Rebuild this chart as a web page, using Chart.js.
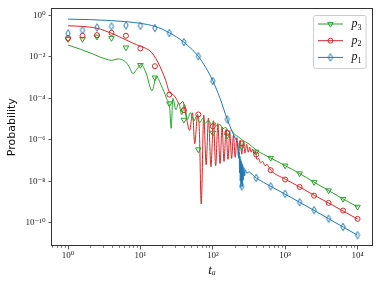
<!DOCTYPE html>
<html>
<head>
<meta charset="utf-8">
<script src="https://cdn.jsdelivr.net/npm/chart.js@4.4.1/dist/chart.umd.min.js"></script>
<style>
  html, body { margin: 0; padding: 0; background: #fff; }
  #wrap { width: 381px; height: 286px; }
</style>
</head>
<body>
<div id="wrap"><canvas id="chart" width="381" height="286"></canvas></div>
<script>
// everything below is read off the reference, stored as log10 exponents
// curves: [log10 t_a, log10 P]; markers share markerLogT
const markerLogT = [0, 0.2, 0.4, 0.6, 0.8, 1, 1.2, 1.4, 1.6, 1.8, 2, 2.2, 2.4, 2.6, 2.8, 3, 3.2, 3.4, 3.6, 3.8, 4];

const p1Markers = [-0.87, -0.71, -0.58, -0.53, -0.48, -0.50, -0.61, -0.85, -1.29, -1.97, -3.17, -5.02, -8.25, -7.84, -8.25, -8.61, -9.02, -9.40, -9.81, -10.21, -10.61];
const p2Markers = [-1.09, -0.98, -0.95, -0.84, -0.98, -1.59, -2.45, -3.82, -4.57, -4.78, -5.35, -5.67, -6.18, -6.72, -7.47, -7.92, -8.28, -8.70, -9.05, -9.42, -9.82];
const p3Markers = [-1.15, -1.14, -1.03, -1.10, -1.55, -2.40, -3.00, -4.25, -5.04, -6.47, -5.67, -5.80, -6.34, -6.58, -6.88, -7.25, -7.63, -8.05, -8.45, -8.86, -9.24];

const p1Curve = [
  [0, -0.18], [0.3, -0.20], [0.6, -0.25], [0.8, -0.30], [1, -0.38], [1.1, -0.44], [1.2, -0.53],
  [1.3, -0.66], [1.4, -0.84], [1.5, -1.04], [1.6, -1.29], [1.7, -1.60], [1.8, -1.97], [1.9, -2.50],
  [2, -3.15], [2.1, -4.0], [2.2, -5.02], [2.27, -5.62], [2.32, -6.0], [2.35, -6.3], [2.36, -6.9],
  [2.365, -6.6], [2.37, -7.6], [2.375, -6.8], [2.38, -8.0], [2.385, -6.95], [2.39, -8.3], [2.395, -7.05],
  [2.40, -8.1], [2.405, -7.15], [2.41, -8.25], [2.415, -7.25], [2.42, -7.95], [2.43, -7.35], [2.44, -7.75],
  [2.45, -7.45], [2.47, -7.62], [2.5, -7.55], [2.55, -7.7], [2.6, -7.84], [2.8, -8.25], [3, -8.63],
  [3.2, -9.02], [3.4, -9.41], [3.6, -9.81], [3.8, -10.21], [4, -10.61]
];

const p2Curve = [
  [0, -0.50], [0.2, -0.53], [0.4, -0.62], [0.6, -0.86], [0.8, -1.18], [0.95, -1.42], [1.05, -1.55],
  [1.12, -1.68], [1.18, -1.9], [1.24, -2.25], [1.3, -2.7], [1.35, -3.15], [1.4, -3.7], [1.46, -3.85],
  [1.5, -4.05], [1.54, -4.3], [1.585, -4.15], [1.63, -4.85], [1.68, -5.55], [1.72, -4.7], [1.75, -6.2],
  [1.79, -4.78], [1.815, -5.6], [1.84, -9.1], [1.875, -4.82], [1.908, -7.2], [1.94, -4.95], [1.975, -7.3],
  [2.008, -5.08], [2.04, -7.25], [2.07, -5.22], [2.10, -7.15], [2.128, -5.38], [2.155, -7.05], [2.183, -5.5],
  [2.21, -6.95], [2.235, -5.65], [2.26, -6.9], [2.285, -5.78], [2.31, -6.85], [2.333, -5.9], [2.355, -6.8],
  [2.378, -6.02], [2.40, -6.7], [2.423, -6.12], [2.445, -6.65], [2.468, -6.22], [2.49, -6.6], [2.51, -6.35],
  [2.53, -6.6], [2.55, -6.45], [2.57, -6.7], [2.59, -6.55], [2.61, -6.95], [2.63, -6.9], [2.66, -7.12],
  [2.69, -7.05], [2.72, -7.25], [2.75, -7.2], [2.8, -7.47], [3, -7.9], [3.2, -8.28], [3.4, -8.68],
  [3.6, -9.05], [3.8, -9.44], [4, -9.83]
];

const p3Curve = [
  [0, -1.43], [0.17, -1.63], [0.35, -1.87], [0.45, -2.02], [0.52, -2.1], [0.6, -2.17], [0.69, -2.1],
  [0.78, -2.2], [0.84, -2.45], [0.897, -2.8], [0.95, -2.6], [1.01, -2.37], [1.08, -2.8], [1.16, -3.64],
  [1.22, -2.95], [1.29, -3.4], [1.36, -4.0], [1.405, -4.5], [1.425, -5.45], [1.448, -4.0], [1.49, -4.55],
  [1.53, -4.22], [1.57, -4.8], [1.61, -4.3], [1.65, -5.02], [1.69, -4.7], [1.74, -5.1], [1.775, -4.86],
  [1.82, -5.18], [1.86, -4.98], [1.9, -5.2], [1.94, -5.05], [1.98, -5.26], [2.02, -5.14], [2.06, -5.36],
  [2.10, -5.26], [2.14, -5.47], [2.18, -5.4], [2.22, -5.6], [2.26, -5.56], [2.30, -5.74], [2.35, -5.85],
  [2.4, -6.0], [2.5, -6.2], [2.6, -6.5], [2.8, -6.88], [3, -7.25], [3.2, -7.63], [3.4, -8.05],
  [3.6, -8.45], [3.8, -8.86], [4, -9.24]
];

const seriesLabels = ['p3', 'p2', 'p1'];
const xTickExps = [0, 1, 2, 3, 4];
const yTickExps = [0, -2, -4, -6, -8, -10];
const xRangeExp = [-0.2, 4.2];
const yRangeExp = [-11.13, 0.34];

const colors = { p1: '#1f77b4', p2: '#d62728', p3: '#2ca02c' };
const serif = "'Liberation Serif', 'DejaVu Serif', serif";

const supMap = { '-': '\u207b', '0': '\u2070', '1': '\u00b9', '2': '\u00b2', '3': '\u00b3', '4': '\u2074',
  '5': '\u2075', '6': '\u2076', '7': '\u2077', '8': '\u2078', '9': '\u2079' };
const powLabel = e => '10' + String(e).split('').map(c => supMap[c]).join('');

const toPoints = pairs => pairs.map(([lt, lp]) => ({ x: 10 ** lt, y: 10 ** lp }));
const markerPoints = vals => vals.map((lp, i) => ({ x: 10 ** markerLogT[i], y: 10 ** lp }));

// thin diamond marker ('d' in matplotlib) as an image point style
function thinDiamond(color) {
  const c = document.createElement('canvas');
  c.width = 8; c.height = 10;
  const g = c.getContext('2d');
  g.strokeStyle = color;
  g.lineWidth = 1;
  g.beginPath();
  g.moveTo(4, 1.3); g.lineTo(6.2, 5); g.lineTo(4, 8.7); g.lineTo(1.8, 5);
  g.closePath();
  g.stroke();
  return c;
}
const diamondImg = thinDiamond(colors.p1);

function drawMarker(ctx, kind, x, y, color) {
  ctx.save();
  ctx.strokeStyle = color;
  ctx.lineWidth = 1;
  ctx.beginPath();
  if (kind === 'tri') {
    const r = 3.2;
    ctx.moveTo(x - r * 0.866, y - r * 0.5);
    ctx.lineTo(x + r * 0.866, y - r * 0.5);
    ctx.lineTo(x, y + r);
    ctx.closePath();
    ctx.stroke();
  } else if (kind === 'circ') {
    ctx.arc(x, y, 2.5, 0, Math.PI * 2);
    ctx.stroke();
  } else {
    ctx.drawImage(diamondImg, x - diamondImg.width / 2, y - diamondImg.height / 2);
  }
  ctx.restore();
}

const curve = (label, pairs, color, order) => ({
  label, data: toPoints(pairs), showLine: true, borderColor: color, borderWidth: 1,
  pointRadius: 0, cubicInterpolationMode: 'monotone', order
});
const marks = (label, vals, color, style, radius, rotation, order) => ({
  label, data: markerPoints(vals), showLine: false, pointStyle: style, pointRadius: radius,
  pointRotation: rotation, borderColor: color, backgroundColor: 'rgba(0,0,0,0)',
  pointBorderWidth: 1, order
});

const framePlugin = {
  id: 'frame',
  afterDatasetsDraw(chart) {
    const { ctx, chartArea: a, scales } = chart;
    ctx.save();
    ctx.strokeStyle = '#333';
    ctx.lineWidth = 1;
    ctx.strokeRect(Math.round(a.left) - 0.5, Math.round(a.top) + 0.5,
      Math.round(a.right - a.left) + 1, Math.round(a.bottom - a.top) - 1);
    // minor ticks on the time axis
    ctx.lineWidth = 0.6;
    const xs = scales.x;
    for (let e = -1; e <= 4; e++) {
      for (let m = 2; m <= 9; m++) {
        const v = m * 10 ** e;
        if (v <= xs.min || v >= xs.max) continue;
        const px = Math.round(xs.getPixelForValue(v)) + 0.5;
        ctx.beginPath();
        ctx.moveTo(px, a.bottom);
        ctx.lineTo(px, a.bottom + 2);
        ctx.stroke();
      }
    }
    ctx.restore();
  },
  afterDraw(chart) {
    const { ctx } = chart;
    const box = { x: 313.5, y: 15.5, w: 52.5, h: 53 };
    ctx.save();
    ctx.fillStyle = 'rgba(255,255,255,0.8)';
    ctx.strokeStyle = '#cccccc';
    ctx.lineWidth = 1;
    ctx.beginPath();
    ctx.roundRect(box.x, box.y, box.w, box.h, 2);
    ctx.fill();
    ctx.stroke();
    const kinds = ['tri', 'circ', 'dia'];
    const cols = [colors.p3, colors.p2, colors.p1];
    seriesLabels.forEach((lab, i) => {
      const y = 24 + i * 16.7;
      ctx.strokeStyle = cols[i];
      ctx.lineWidth = 1;
      ctx.beginPath();
      ctx.moveTo(318, y);
      ctx.lineTo(343, y);
      ctx.stroke();
      drawMarker(ctx, kinds[i], 330.5, y, cols[i]);
      ctx.fillStyle = '#111';
      ctx.textBaseline = 'alphabetic';
      ctx.font = `italic 12px ${serif}`;
      ctx.fillText(lab[0], 351.5, y + 3);
      ctx.font = `8px ${serif}`;
      ctx.fillText(lab[1], 357.5, y + 5.5);
    });
    ctx.restore();
  }
};

new Chart(document.getElementById('chart'), {
  type: 'scatter',
  data: {
    datasets: [
      curve('p1', p1Curve, colors.p1, 0),
      curve('p3', p3Curve, colors.p3, 1),
      curve('p2', p2Curve, colors.p2, 2),
      marks('p1 markers', p1Markers, colors.p1, diamondImg, 3, 0, 0),
      marks('p2 markers', p2Markers, colors.p2, 'circle', 2.5, 0, 0),
      marks('p3 markers', p3Markers, colors.p3, 'triangle', 3.2, 180, 0)
    ]
  },
  options: {
    responsive: false,
    devicePixelRatio: 1,
    animation: false,
    events: [],
    layout: { padding: { left: 0, top: 8, right: 9, bottom: 0 } },
    plugins: { legend: { display: false }, tooltip: { enabled: false } },
    scales: {
      x: {
        type: 'logarithmic',
        min: 10 ** xRangeExp[0],
        max: 10 ** xRangeExp[1],
        afterBuildTicks: s => { s.ticks = xTickExps.map(e => ({ value: 10 ** e })); },
        afterFit: s => { s.height = 40; },
        ticks: {
          autoSkip: false, maxRotation: 0, padding: 1, color: '#222',
          font: { family: serif, size: 9 },
          callback: v => powLabel(Math.round(Math.log10(v)))
        },
        grid: { drawOnChartArea: false, tickLength: 3.5, tickWidth: 0.8, tickColor: '#333' },
        border: { display: false },
        title: {
          display: true, text: 't\u2090', color: '#111',
          font: { family: serif, style: 'italic', size: 13 },
          padding: { top: 0, bottom: 8 }
        }
      },
      y: {
        type: 'logarithmic',
        min: 10 ** yRangeExp[0],
        max: 10 ** yRangeExp[1],
        afterBuildTicks: s => { s.ticks = yTickExps.map(e => ({ value: 10 ** e })); },
        afterFit: s => { s.width = 52; },
        ticks: {
          autoSkip: false, padding: 3, color: '#222',
          font: { family: serif, size: 9 },
          callback: v => powLabel(Math.round(Math.log10(v)))
        },
        grid: { drawOnChartArea: false, tickLength: 3.5, tickWidth: 0.8, tickColor: '#333' },
        border: { display: false },
        title: {
          display: true, text: 'Probability', color: '#111',
          font: { family: "'DejaVu Sans', sans-serif", size: 11 },
          padding: { top: 6, bottom: 0 }
        }
      }
    }
  },
  plugins: [framePlugin]
});
</script>
</body>
</html>
